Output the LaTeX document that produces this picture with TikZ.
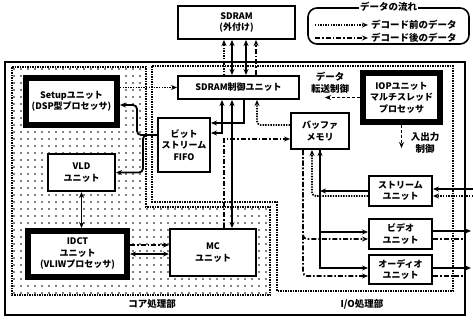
\documentclass[tikz,border=0pt]{standalone}
\usepackage{fontspec}
\setmainfont{Noto Sans CJK JP}
\usetikzlibrary{arrows.meta, positioning, patterns.meta}
\tikzset{%
	unit/.style={
		draw,
		fill=white,
		line width=2pt,
		align=center,
		inner sep=1pt,
		font=\fontsize{9}{11.5}\selectfont\bfseries
	},
	heavy unit/.style={
		unit,
		line width=6pt
	},
	ctl/.style={line width=1.8pt},
	pre/.style={line width=1.8pt, dash pattern=on 1.4pt off 1.2pt},
	post/.style={line width=1.8pt, dash pattern=on 5pt off 2pt on 1.6pt off 2pt},
}

\begin{document}
\begin{tikzpicture}[
				x=1pt, y=-1pt,
				lbl/.style={font=\fontsize{9.5}{11.5}\selectfont\bfseries, inner sep=1pt, align=center},
				>={Stealth[length=6pt, width=5pt]}
				]
				\useasboundingbox (0,0) rectangle (473,321);
				
				% Regions
				\draw[line width=2pt] (5,62) rectangle (465,315);
				\fill[pattern={Dots[distance=7pt, radius=0.9pt]}] (12,67) -- (146,67) -- (146,207) -- (270,207) -- (270,295) -- (12,295) -- cycle;
				\draw[line width=1.5pt, densely dotted] (12,67) -- (146,67) -- (146,207) -- (270,207) -- (270,295) -- (12,295) -- cycle;
				\draw[line width=1.5pt, densely dotted] (152,66) -- (453,66) -- (453,291) -- (277,291) -- (277,202) -- (152,202) -- cycle;
				\node[lbl] (CORE) at (152,304) {コア処理部};
				\node[lbl] (IO) at (362,304) {I/O処理部};
				
				% Units
				\node[unit, minimum width=117pt, minimum height=33pt] (SDRAM) at (236.5,22.5) {SDRAM\\(外付け)};
				\node[unit, minimum width=121pt, minimum height=23pt] (CTRL) at (238.5,87.5) {SDRAM制御ユニット};
				\node[heavy unit, minimum width=91pt, minimum height=47pt] (SETUP) at (71.5,101.5) {Setupユニット\\(DSP型プロセッサ)};
				\node[unit, minimum width=67pt, minimum height=37pt] (VLD) at (81.5,172.5) {VLD\\ユニット};
				\node[heavy unit, minimum width=99pt, minimum height=46pt] (IDCT) at (77.5,254) {IDCT\\ユニット\\(VLIWプロセッサ)};
				\node[unit, minimum width=86pt, minimum height=47pt] (MC) at (213,252.5) {MC\\ユニット};
				\node[unit, minimum width=52pt, minimum height=54pt] (FIFO) at (184,145) {ビット\\ストリーム\\FIFO};
				\node[unit, minimum width=58pt, minimum height=36pt] (BUF) at (320,131) {バッファ\\メモリ};
				\node[heavy unit, minimum width=77pt, minimum height=49pt] (IOP) at (401.5,97.5) {IOPユニット\\マルチスレッド\\プロセッサ};
				\node[unit, minimum width=63pt, minimum height=30pt] (STR) at (400.5,191) {ストリーム\\ユニット};
				\node[unit, minimum width=63pt, minimum height=30pt] (VID) at (400.5,234) {ビデオ\\ユニット};
				\node[unit, minimum width=63pt, minimum height=29pt] (AUD) at (400.5,269.5) {オーディオ\\ユニット};
				\node[lbl] (XFER) at (330,83) {データ\\転送制御};
				\node[lbl] (IOCTL) at (425,143) {入出力\\制御};
				
				% Legend
				\node[draw, line width=1.6pt, rounded corners=9pt, minimum width=161pt, minimum height=36pt] (LEG) at (388.5,26) {};
				\node[lbl, fill=white] (LTITLE) at (LEG.north) {データの流れ};
				\coordinate (P1) at (315,25);
				\coordinate (P2) at (368,25);
				\draw[pre,->] (P1) -- (P2);
				\node[lbl, right=2pt of P2] (LPRE) {デコード前のデータ};
				\coordinate (Q1) at (315,38);
				\coordinate (Q2) at (368,38);
				\draw[post,->] (Q1) -- (Q2);
				\node[lbl, right=2pt of Q2] (LPOST) {デコード後のデータ};
				
				% SDRAM <-> control unit
				\draw[pre,->] ([xshift=-14.5pt]CTRL.north) -- ([xshift=-12.5pt]SDRAM.south);
				\draw[ctl,<->] ([xshift=-6.5pt]CTRL.north) -- ([xshift=-4.5pt]SDRAM.south);
				\draw[ctl,<->] ([xshift=7.5pt]CTRL.north) -- ([xshift=9.5pt]SDRAM.south);
				\draw[post,->] ([xshift=17.5pt]CTRL.north) -- ([xshift=19.5pt]SDRAM.south);
				
				% Core side
				\draw[pre,->] (SETUP.east |- CTRL.west) -- (CTRL.west);
				\draw[ctl,->,rounded corners=4pt] ([yshift=10pt]FIFO.west) -- ++(-20,0) |- ([yshift=-3.5pt]SETUP.east);
				\draw[ctl,->,rounded corners=4pt] ([yshift=10pt]FIFO.west) -- ++(-14,0) |- (VLD.east);
				\draw[ctl,<->] (VLD.south) -- (VLD.south |- IDCT.north);
				\draw[ctl,<->] (IDCT.east) -- (IDCT.east -| MC.west);
				\draw[post,->] ([yshift=9pt]IDCT.east) -- ([yshift=7.5pt]MC.west);
				
				% Bus round the control unit
				\draw[ctl,<->] ([xshift=-6.5pt]CTRL.south) -- ([xshift=19pt]MC.north);
				\draw[ctl,->] ([xshift=5.5pt]CTRL.south) |- ([yshift=22pt]FIFO.east);
				\draw[ctl,<->] ([yshift=12pt]FIFO.east) -| ([xshift=-16.5pt]CTRL.south);
				\draw[post,->] ([xshift=11pt]MC.north) |- ([yshift=-8pt]BUF.west);
				\draw[pre,->,rounded corners=4pt] ([yshift=6pt]BUF.west) -| ([xshift=18.5pt]CTRL.south);
				
				% IOP unit
				\coordinate (XEND) at (325,97.5);
				\draw[line width=1.4pt, densely dashed,->] (IOP.west) -- (XEND);
				\coordinate (IEND) at (401.5,148);
				\draw[line width=1.4pt, densely dashed,->] (IOP.south) -- (IEND);
				
				% Buffer <-> I/O units
				\draw[ctl,->] (STR.west) -- (STR.west -| BUF.south);
				\draw[ctl,<->] (BUF.south) |- ([yshift=1.5pt]AUD.west);
				\draw[ctl,->] (BUF.south) |- ([yshift=2pt]VID.west);
				\draw[pre,->,rounded corners=4pt] ([yshift=-5pt]STR.west) -| ([xshift=-8pt]BUF.south);
				\draw[post,->,rounded corners=4pt] ([xshift=-17pt]BUF.south) |- ([yshift=-5pt]VID.west);
				\draw[post,->,rounded corners=4pt] ([xshift=-17pt]BUF.south) |- ([yshift=-6.5pt]AUD.west);
				
				% Outside
				\coordinate (E1) at (473,189);
				\coordinate (E2) at (473,196);
				\coordinate (E3) at (471,231);
				\coordinate (E4) at (463,239);
				\coordinate (E5) at (471,268);
				\coordinate (E6) at (463,276);
				\draw[ctl,->] (E1) -- ([yshift=2pt]STR.east);
				\draw[pre,->] (E2) -- ([yshift=-5pt]STR.east);
				\draw[ctl,->] ([yshift=3pt]VID.east) -- (E3);
				\draw[post] ([yshift=-5pt]VID.east) -- (E4);
				\draw[ctl,->] ([yshift=1.5pt]AUD.east) -- (E5);
				\draw[post] ([yshift=-6.5pt]AUD.east) -- (E6);
				
			\end{tikzpicture}
\end{document}
